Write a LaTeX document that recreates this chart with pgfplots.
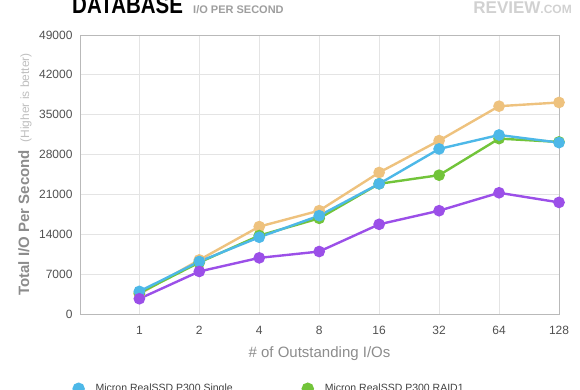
\documentclass[border=0pt]{standalone}
\usepackage{pgfplots}
\pgfplotsset{compat=1.18}
\usepackage{fontspec}
\setmainfont{Liberation Sans}
\definecolor{cOrange}{RGB}{238,194,126}
\definecolor{cBlue}{RGB}{77,184,232}
\definecolor{cGreen}{RGB}{114,196,58}
\definecolor{cPurple}{RGB}{155,79,232}
\definecolor{cTick}{RGB}{80,80,80}
\definecolor{cLabel}{RGB}{140,140,140}
\definecolor{cGrid}{RGB}{228,228,228}
\definecolor{cBox}{RGB}{185,185,185}
\begin{document}
\begin{tikzpicture}[x=1pt,y=1pt]
\path[use as bounding box] (0,0) rectangle (580,390);
\node[anchor=base west, inner sep=0, font=\fontsize{20.5}{20.5}\selectfont\bfseries, yscale=1.2] at (72,376) {DATABASE};
\node[anchor=base west, inner sep=0, font=\fontsize{11}{11}\selectfont\bfseries, text=black!38] at (193,376) {I/O PER SECOND};
\node[anchor=base east, inner sep=0, text=black!18] at (572,376) {\fontsize{17}{17}\selectfont\bfseries REVIEW\fontsize{12}{12}\selectfont.COM};
\begin{axis}[
  at={(80pt,76pt)}, anchor=south west,
  scale only axis, width=479pt, height=279pt,
  xmin=-0.99, xmax=7, ymin=0, ymax=49000,
  xtick={0,1,2,3,4,5,6,7},
  xticklabels={1,2,4,8,16,32,64,128},
  ytick={0,7000,14000,21000,28000,35000,42000,49000},
  /pgf/number format/1000 sep={},
  /pgf/number format/assume math mode=true,
  scaled y ticks=false,
  grid=major,
  major grid style={cGrid, line width=0.8pt},
  axis line style={cBox, line width=0.8pt},
  major tick length=0pt,
  tick label style={font=\fontsize{12}{12}\selectfont, text=cTick},
  yticklabel style={xshift=-4pt},
  xticklabel style={yshift=-9pt},
  xlabel={\# of Outstanding I/Os},
  xlabel style={font=\fontsize{15}{15}\selectfont, text=cLabel, at={(axis description cs:0.5,-0.143)}, anchor=center},
  ylabel={\textbf{Total I/O Per Second}\enspace{\fontsize{12}{12}\selectfont\color{black!25}(Higher is better)}},
  ylabel style={font=\fontsize{15}{15}\selectfont, text=cLabel, at={(axis description cs:-0.115,0.5)}, anchor=center, rotate=0},
  clip=false,
  every axis plot/.append style={line width=2.4pt, mark=*, mark size=4.6pt},
  legend columns=2,
  legend style={draw=none, fill=none, at={(axis description cs:-0.02,-0.268)}, anchor=west,
    font=\fontsize{10.5}{10.5}\selectfont, text=black!75,
    /tikz/every odd column/.append style={column sep=10pt},
    /tikz/every even column/.append style={column sep=68pt}},
]
\addplot[color=cOrange, forget plot] coordinates {(0,3500) (1,9500) (2,15350) (3,18150) (4,24850) (5,30450) (6,36500) (7,37150)};
\addplot[color=cGreen, forget plot] coordinates {(0,3680) (1,9050) (2,13770) (3,16800) (4,22870) (5,24380) (6,30800) (7,30220)};
\addplot[color=cBlue, forget plot] coordinates {(0,3970) (1,9220) (2,13480) (3,17270) (4,22870) (5,28990) (6,31440) (7,30100)};
\addplot[color=cPurple, forget plot] coordinates {(0,2680) (1,7470) (2,9860) (3,10970) (4,15750) (5,18140) (6,21290) (7,19600)};
\addlegendimage{only marks, mark=*, mark size=5pt, color=cBlue}
\addlegendentry{Micron RealSSD P300 Single}
\addlegendimage{only marks, mark=*, mark size=5pt, color=cGreen}
\addlegendentry{Micron RealSSD P300 RAID1}
\end{axis}
\end{tikzpicture}
\end{document}
